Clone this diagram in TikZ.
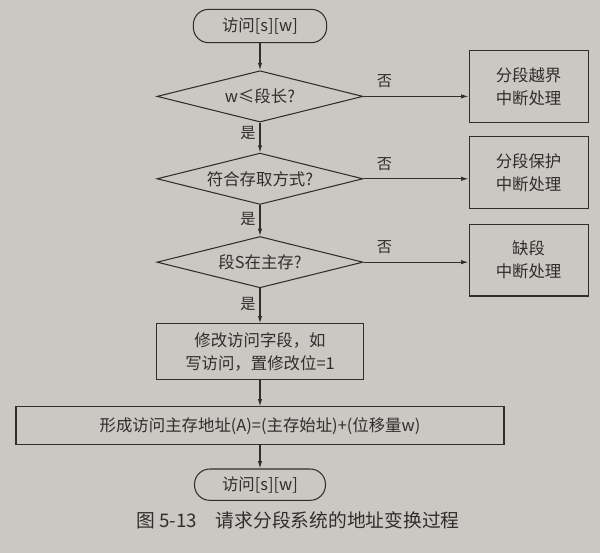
\documentclass[tikz,border=0pt]{standalone}
\usepackage{fontspec}
\newfontfamily\cjk{Noto Sans CJK SC}
\usetikzlibrary{arrows.meta, positioning, shapes.geometric}
\definecolor{paper}{RGB}{203,200,195}
\definecolor{ink}{RGB}{48,46,45}

\begin{document}
\begin{tikzpicture}[
    node distance=0.9cm and 3.15cm,
    termbox/.style={
        rectangle,
        rounded corners=0.46cm,
        draw=ink,
        line width=0.9pt,
        align=center,
        minimum width=4.0cm,
        minimum height=1.0cm,
        font=\cjk\fontsize{14}{19.5}\selectfont,
        text=ink
    },
    testbox/.style={
        diamond,
        aspect=4,
        draw=ink,
        line width=0.9pt,
        inner sep=1pt,
        minimum width=6.18cm,
        minimum height=1.54cm,
        font=\cjk\fontsize{14}{19.5}\selectfont,
        text=ink
    },
    procbox/.style={
        rectangle,
        draw=ink,
        line width=0.9pt,
        align=center,
        minimum width=3.57cm,
        minimum height=2.15cm,
        font=\cjk\fontsize{14}{19.5}\selectfont,
        text=ink
    },
    tag/.style={
        font=\cjk\fontsize{13}{15}\selectfont,
        text=ink
    },
    arrow/.style={
        -{Latex[length=2.2mm,width=1.3mm]},
        line width=0.9pt,
        draw=ink
    }
]

% Paper and frame
\fill[paper] (0,0) rectangle (18,-16.59);
\useasboundingbox (0,0) rectangle (18,-16.59);

% Main column
\node[termbox] (start) at (7.8,-0.78) {访问[s][w]};

\node[testbox, below=0.81cm of start] (length) {w≤段长?};

\node[testbox, below=0.9cm of length] (mode) {符合存取方式?};

\node[testbox, below=0.93cm of mode] (present) {段S在主存?};

\node[procbox, minimum width=6.21cm, minimum height=1.68cm, below=1.05cm of present] (modify) {修改访问字段，如\\写访问，置修改位=1};

\node[procbox, minimum width=14.64cm, minimum height=1.14cm, below=0.78cm of modify] (form) {形成访问主存地址(A)=(主存始址)+(位移量w)};

\node[termbox, minimum width=3.93cm, minimum height=0.94cm, below=0.69cm of form] (finish) {访问[s][w]};

% Interrupt boxes
\node[procbox, right=3.15cm of length, yshift=0.3cm] (bound) {分段越界\\中断处理};

\node[procbox, right=3.15cm of mode, yshift=0.18cm] (protect) {分段保护\\中断处理};

\node[procbox, right=3.15cm of present, yshift=0.06cm] (fault) {缺段\\中断处理};

% Caption
\node[font=\cjk\fontsize{16}{18}\selectfont, text=ink] (caption) at (8.94,-15.6) {图 5-13\hspace{1em}请求分段系统的地址变换过程};

% Main arrows
\draw[arrow] (start) -- (length);
\draw[arrow] (length) -- node[tag, left, pos=0.35] (yes1) {是} (mode);
\draw[arrow] (mode) -- node[tag, left, pos=0.45] (yes2) {是} (present);
\draw[arrow] (present) -- node[tag, left, pos=0.45] (yes3) {是} (modify);
\draw[arrow] (modify) -- (form);
\draw[arrow] (form) -- (finish);

% Side arrows
\draw[arrow] (length.east) -- node[tag, above=0.12cm, pos=0.2] (no1) {否} (length.east -| bound.west);
\draw[arrow] (mode.east) -- node[tag, above=0.12cm, pos=0.2] (no2) {否} (mode.east -| protect.west);
\draw[arrow] (present.east) -- node[tag, above=0.12cm, pos=0.2] (no3) {否} (present.east -| fault.west);

\end{tikzpicture}
\end{document}
